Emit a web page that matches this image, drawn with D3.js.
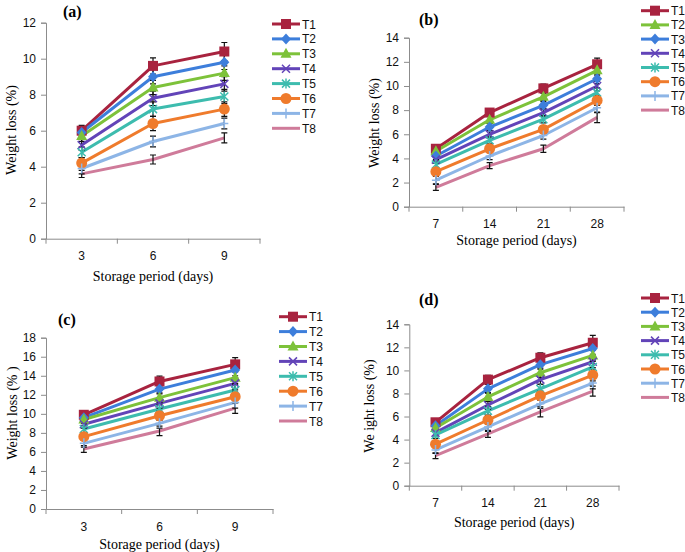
<!DOCTYPE html>
<html>
<head>
<meta charset="utf-8">
<script src="https://cdn.jsdelivr.net/npm/d3@7.9.0/dist/d3.min.js"></script>
<style>
  body { margin: 0; background: #fff; }
  svg { display: block; }
</style>
</head>
<body>
<div class="container"></div>
<script>
const width = 685, height = 552;

// Data
const seriesNames = ["T1", "T2", "T3", "T4", "T5", "T6", "T7", "T8"];

const daysShort = ["3", "6", "9"];
const daysLong = ["7", "14", "21", "28"];

const valuesA = [
  [6.0, 9.6, 10.4], [5.9, 9.0, 9.8], [5.7, 8.4, 9.2], [5.2, 7.8, 8.6],
  [4.8, 7.2, 7.9], [4.2, 6.4, 7.2], [3.9, 5.4, 6.4], [3.6, 4.4, 5.6]
];
const errorsA = [
  [0.3, 0.45, 0.5], [0.3, 0.4, 0.4], [0.3, 0.4, 0.4], [0.3, 0.4, 0.4],
  [0.3, 0.4, 0.4], [0.3, 0.4, 0.4], [0.3, 0.3, 0.3], [0.2, 0.25, 0.28]
];

const valuesB = [
  [4.8, 7.8, 9.8, 11.8], [4.6, 7.2, 9.1, 11.3], [4.2, 6.6, 8.4, 10.6], [3.9, 6.0, 7.8, 10.0],
  [3.5, 5.5, 7.25, 9.45], [2.9, 4.8, 6.4, 8.8], [2.2, 4.2, 5.9, 8.2], [1.6, 3.4, 4.8, 7.4]
];
const errorsB = [
  [0.3, 0.3, 0.35, 0.5], [0.3, 0.3, 0.3, 0.4], [0.3, 0.3, 0.3, 0.4], [0.3, 0.3, 0.3, 0.4],
  [0.3, 0.3, 0.3, 0.4], [0.3, 0.3, 0.3, 0.4], [0.3, 0.3, 0.3, 0.4], [0.25, 0.25, 0.3, 0.44]
];

const valuesC = [
  [9.9, 13.4, 15.2], [9.6, 12.6, 14.6], [9.4, 11.7, 13.8], [8.9, 11.1, 13.2],
  [8.4, 10.5, 12.5], [7.6, 9.8, 11.8], [6.9, 9.0, 11.2], [6.3, 8.2, 10.6]
];
const errorsC = [
  [0.35, 0.56, 0.7], [0.4, 0.5, 0.6], [0.4, 0.5, 0.6], [0.4, 0.5, 0.6],
  [0.4, 0.5, 0.6], [0.4, 0.5, 0.6], [0.4, 0.5, 0.6], [0.35, 0.5, 0.56]
];

const valuesD = [
  [5.5, 9.2, 11.1, 12.4], [5.2, 8.4, 10.5, 11.9], [5.0, 7.7, 9.8, 11.3], [4.6, 7.0, 9.2, 10.75],
  [4.4, 6.5, 8.4, 10.3], [3.6, 5.7, 7.8, 9.6], [3.1, 5.1, 7.1, 8.9], [2.6, 4.5, 6.4, 8.2]
];
const errorsD = [
  [0.3, 0.38, 0.43, 0.64], [0.3, 0.38, 0.4, 0.5], [0.3, 0.38, 0.4, 0.5], [0.3, 0.38, 0.4, 0.5],
  [0.3, 0.38, 0.4, 0.5], [0.3, 0.38, 0.4, 0.5], [0.3, 0.38, 0.4, 0.5], [0.25, 0.3, 0.43, 0.43]
];

const ticksA = [0, 2, 4, 6, 8, 10, 12];
const ticksB = [0, 2, 4, 6, 8, 10, 12, 14];
const ticksC = [0, 2, 4, 6, 8, 10, 12, 14, 16, 18];
const ticksD = [0, 2, 4, 6, 8, 10, 12, 14];

const panelLabels = ["(a)", "(b)", "(c)", "(d)"];
const xTitle = "Storage period (days)";
const yTitles = ["Weight loss (%)", "Weight loss (%)", "Weight loss (% )", "We ight loss (%)"];

// series look (colour + marker)
const styles = [
  { color: "#A8233F", marker: "square" },
  { color: "#3D7EDB", marker: "diamond" },
  { color: "#7DC23A", marker: "triangle" },
  { color: "#6244B8", marker: "x" },
  { color: "#3DBCAE", marker: "asterisk" },
  { color: "#EF7B2C", marker: "circle" },
  { color: "#8DB5E6", marker: "plus" },
  { color: "#CF7B9A", marker: "none" }
];

// panel layouts
const panels = [
  { cats: daysShort, values: valuesA, errors: errorsA, ticks: ticksA, styleOrder: [0,1,2,3,4,5,6,7],
    left: 46, right: 260, top: 22.7, bottom: 238.7,
    legX: 272, legY: 24, legStep: 14.9,
    labelX: 63, labelY: 17, yTitleX: 11, yTitleY: 130, xTitleY: 281 },
  { cats: daysLong, values: valuesB, errors: errorsB, ticks: ticksB, styleOrder: [0,2,1,3,4,5,6,7],
    left: 409, right: 624, top: 37.7, bottom: 206.7,
    legX: 641, legY: 10.7, legStep: 14.2,
    labelX: 419, labelY: 25, yTitleX: 374, yTitleY: 123, xTitleY: 245 },
  { cats: daysShort, values: valuesC, errors: errorsC, ticks: ticksC, styleOrder: [0,1,2,3,4,5,6,7],
    left: 46, right: 273, top: 337.7, bottom: 509,
    legX: 279, legY: 316.7, legStep: 14.9,
    labelX: 58, labelY: 325, yTitleX: 12, yTitleY: 413, xTitleY: 549 },
  { cats: daysLong, values: valuesD, errors: errorsD, ticks: ticksD, styleOrder: [0,1,2,3,4,5,6,7],
    left: 409.3, right: 619, top: 324.3, bottom: 485.7,
    legX: 641, legY: 298, legStep: 14.2,
    labelX: 419, labelY: 305, yTitleX: 369, yTitleY: 406, xTitleY: 527 }
];

const svg = d3.select(".container")
  .append("svg")
  .attr("width", width)
  .attr("height", height);

const axisColor = "#8c8c8c";
const tickFont = "'Liberation Sans', Arial, sans-serif";
const serif = "'Liberation Serif', 'Times New Roman', serif";

function drawMarker(g, type, x, y, color) {
  if (type === "square") {
    g.append("rect").attr("x", x - 5).attr("y", y - 5).attr("width", 10).attr("height", 10).attr("fill", color);
  } else if (type === "diamond") {
    g.append("path").attr("d", `M${x},${y-5.5}L${x+5},${y}L${x},${y+5.5}L${x-5},${y}Z`).attr("fill", color);
  } else if (type === "triangle") {
    g.append("path").attr("d", `M${x},${y-6}L${x+5.5},${y+4}L${x-5.5},${y+4}Z`).attr("fill", color);
  } else if (type === "circle") {
    g.append("circle").attr("cx", x).attr("cy", y).attr("r", 5.5).attr("fill", color);
  } else if (type === "x" || type === "asterisk" || type === "plus") {
    const s = 4;
    let d = "";
    if (type !== "plus") d += `M${x-s},${y-s}L${x+s},${y+s}M${x-s},${y+s}L${x+s},${y-s}`;
    if (type !== "x") d += `M${x},${y-s-1}L${x},${y+s+1}`;
    if (type === "plus") d += `M${x-s},${y}L${x+s},${y}`;
    g.append("path").attr("d", d).attr("stroke", color).attr("stroke-width", 1.5).attr("fill", "none");
  }
}

panels.forEach((p, pi) => {
  const x = d3.scaleBand().domain(p.cats).range([p.left, p.right]).padding(0);
  const y = d3.scaleLinear().domain([0, d3.max(p.ticks)]).range([p.bottom, p.top]);

  // y axis
  const yAxis = svg.append("g")
    .attr("transform", `translate(${p.left},0)`)
    .call(d3.axisLeft(y).tickValues(p.ticks).tickSize(5).tickPadding(5).tickFormat(d3.format("d")));
  yAxis.selectAll("path, line").attr("stroke", axisColor);
  yAxis.selectAll("text").attr("font-family", tickFont).attr("font-size", 12).attr("fill", "#111");

  // x axis (labels at band centres, ticks at band edges)
  const xAxis = svg.append("g")
    .attr("transform", `translate(0,${p.bottom})`)
    .call(d3.axisBottom(x).tickSize(0).tickPadding(13));
  xAxis.select(".domain").attr("stroke", axisColor);
  xAxis.selectAll("text").attr("font-family", tickFont).attr("font-size", 12).attr("fill", "#111");
  const edges = p.cats.map(c => x(c)).concat([x.range()[1]]);
  xAxis.selectAll(".edge").data(edges).enter().append("line")
    .attr("x1", d => d).attr("x2", d => d).attr("y1", 0).attr("y2", 5)
    .attr("stroke", axisColor);

  const cx = c => x(c) + x.bandwidth() / 2;

  // lines
  const line = d3.line().x((d, i) => cx(p.cats[i])).y(d => y(d));
  p.values.forEach((vals, si) => {
    const st = styles[p.styleOrder[si]];
    svg.append("path").datum(vals).attr("d", line)
      .attr("fill", "none").attr("stroke", st.color).attr("stroke-width", 3)
      .attr("stroke-linejoin", "round");
  });

  // error bars
  const eg = svg.append("g");
  p.values.forEach((vals, si) => {
    vals.forEach((v, i) => {
      const e = p.errors[si][i];
      const xx = cx(p.cats[i]);
      eg.append("path")
        .attr("d", `M${xx},${y(v - e)}L${xx},${y(v + e)}M${xx-3},${y(v - e)}L${xx+3},${y(v - e)}M${xx-3},${y(v + e)}L${xx+3},${y(v + e)}`)
        .attr("stroke", "#111").attr("stroke-width", 1.2).attr("fill", "none");
    });
  });

  // markers
  const mg = svg.append("g");
  p.values.forEach((vals, si) => {
    const st = styles[p.styleOrder[si]];
    vals.forEach((v, i) => drawMarker(mg, st.marker, cx(p.cats[i]), y(v), st.color));
  });

  // legend
  const lg = svg.append("g");
  seriesNames.forEach((name, si) => {
    const st = styles[p.styleOrder[si]];
    const ly = p.legY + si * p.legStep;
    lg.append("line").attr("x1", p.legX).attr("x2", p.legX + 28).attr("y1", ly).attr("y2", ly)
      .attr("stroke", st.color).attr("stroke-width", 3);
    drawMarker(lg, st.marker, p.legX + 14, ly, st.color);
    lg.append("text").attr("x", p.legX + 30).attr("y", ly + 4.5)
      .attr("font-family", tickFont).attr("font-size", 12).attr("fill", "#111")
      .text(name);
  });

  // titles
  svg.append("text").attr("x", p.labelX).attr("y", p.labelY)
    .attr("font-family", serif).attr("font-weight", "bold").attr("font-size", 16)
    .text(panelLabels[pi]);
  svg.append("text").attr("x", (p.left + p.right) / 2).attr("y", p.xTitleY)
    .attr("text-anchor", "middle").attr("font-family", serif).attr("font-size", 14)
    .text(xTitle);
  svg.append("text")
    .attr("transform", `translate(${p.yTitleX},${p.yTitleY}) rotate(-90)`)
    .attr("text-anchor", "middle").attr("dy", "0.35em").attr("font-family", serif).attr("font-size", 14)
    .text(yTitles[pi]);
});
</script>
</body>
</html>
